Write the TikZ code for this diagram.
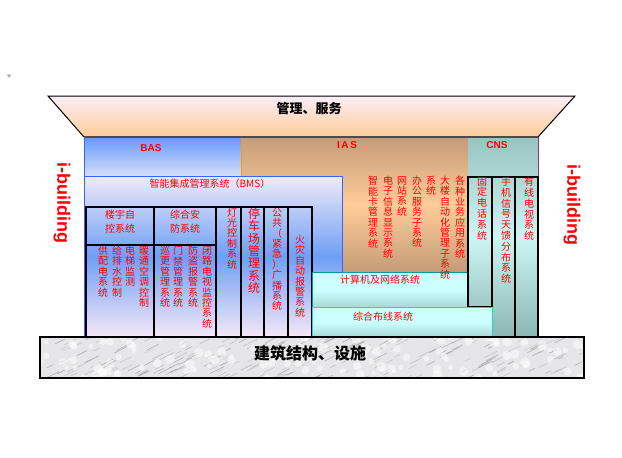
\documentclass[tikz,border=0pt]{standalone}
\usepackage{fontspec}
\setmainfont{Liberation Sans}
\newfontfamily\cjk{Noto Sans CJK SC}
\definecolor{trapTop}{HTML}{FAEEF8}
\definecolor{trapBot}{HTML}{FFCC99}
\definecolor{basBlue}{HTML}{6699FF}
\definecolor{basLight}{HTML}{DCE2F6}
\definecolor{bmsTop}{HTML}{F0EAF8}
\definecolor{bmsMid}{HTML}{6E9FF6}
\definecolor{bmsBot}{HTML}{F6E8F6}
\definecolor{bmsLine}{HTML}{3366FF}
\definecolor{iasDark}{HTML}{C49C78}
\definecolor{iasLight}{HTML}{FFCC99}
\definecolor{iasLine}{HTML}{FF9900}
\definecolor{cnsTop}{HTML}{98C3C1}
\definecolor{cnsMid}{HTML}{CCF6F4}
\definecolor{cnsBot}{HTML}{8CB6B4}
\definecolor{cnsLine}{HTML}{993366}
\definecolor{cyanL}{HTML}{CCFFFF}
\definecolor{cyanD}{HTML}{A8D8D8}
\definecolor{netLine}{HTML}{009999}
\definecolor{wireLine}{HTML}{33CCCC}
\definecolor{txtRed}{HTML}{FF0000}
\definecolor{marble}{HTML}{E6E6E8}
\tikzset{
  vtxt/.style={anchor=north, inner sep=0pt, align=center, text=txtRed,
    font=\cjk\fontsize{10}{10.4}\selectfont},
  htxt/.style={inner sep=0pt, text=txtRed, font=\cjk\fontsize{10}{12}\selectfont},
  blk/.style={draw=black, line width=1.1pt},
  abbr/.style={inner sep=0pt, text=txtRed, font=\bfseries\fontsize{10}{12}\selectfont},
  ibld/.style={inner sep=0pt, text=txtRed, rotate=-90, font=\bfseries\fontsize{18}{18}\selectfont},
}
\begin{document}
\begin{tikzpicture}[x=1pt,y=-1pt]
\useasboundingbox (0,0) rectangle (622,458);
% small mark
\fill[gray!70] (6.5,74.5) -- (11.5,74.5) -- (9,77.5) -- cycle;
% top trapezoid
\shade[top color=trapTop, bottom color=trapBot] (48,96) -- (575,96) -- (538,137) -- (84,137) -- cycle;
\draw[black, line width=1pt] (84,137) -- (48,96) -- (575,96) -- (538,137);
% BAS
\shade[top color=basBlue, bottom color=basLight] (84,137) rectangle (241,178);
% IAS
\shade[top color=iasDark, bottom color=iasDark, middle color=iasLight] (241,137) rectangle (468,272);
\draw[iasLine, line width=1pt] (241,137) -- (241,176) (468,137) -- (468,272);
% CNS
\shade[top color=cnsTop, bottom color=cnsBot, middle color=cnsMid] (468,137) rectangle (538,337);
\draw[cnsLine, line width=1pt] (538.5,137) -- (538.5,337);
\draw[black!70, line width=1.5pt] (84,137) -- (538,137);
% BMS
\shade[top color=bmsTop, bottom color=bmsBot, middle color=bmsMid] (84,176) rectangle (342,337);
\draw[bmsLine, line width=1pt] (84.5,137) -- (84.5,337) (84,176) -- (342,176) -- (342,337);
% inner BMS boxes
\draw[blk] (86,207) rectangle (154,337) (86,245) -- (154,245);
\draw[blk] (154,207) rectangle (216,337) (154,245) -- (216,245);
\draw[blk] (216,207) rectangle (241,337);
\draw[blk] (241,207) rectangle (264,337);
\draw[blk] (264,207) rectangle (288,337);
\draw[blk] (288,207) rectangle (312,337);
% computer & network
\shade[top color=cyanL, bottom color=cyanD, middle color=cyanL] (312,272) rectangle (468,307);
\draw[netLine, line width=1pt] (312,272) rectangle (468,307);
% CNS columns
\draw[blk] (468,177) rectangle (492,307);
\draw[blk] (492,177) rectangle (515,337);
\draw[blk] (515,177) rectangle (538,337);
% cabling
\shade[top color=cyanL, bottom color=cyanD, middle color=cyanL] (312,307) rectangle (492,337);
\draw[wireLine, line width=1pt] (312,307) rectangle (492,337);
% base (marble)
\fill[marble] (40,337) rectangle (584,378);
\begin{scope}
\clip (40,337) rectangle (584,378);
\pgfmathsetseed{7}
\foreach \i in {1,...,260}{
  \pgfmathsetmacro\xx{30+560*rnd}
  \pgfmathsetmacro\yy{335+46*rnd}
  \pgfmathsetmacro\ll{4+10*rnd}
  \pgfmathsetmacro\gg{30+40*rnd}
  \draw[black!\gg, line width=0.7pt, opacity=0.35, line cap=round] (\xx,\yy) -- ++(\ll,-0.5*\ll);
}
\foreach \i in {1,...,120}{
  \pgfmathsetmacro\xx{30+560*rnd}
  \pgfmathsetmacro\yy{335+46*rnd}
  \fill[white, opacity=0.5] (\xx,\yy) circle (2+3*rnd);
}
\end{scope}
\draw[black, line width=1.1pt] (40,337) rectangle (584,378);
% texts
\node[inner sep=0pt, font=\cjk\bfseries\fontsize{13}{15}\selectfont] (mgmt) at (309,109) {管理、服务};
\node[inner sep=0pt, font=\cjk\bfseries\fontsize{16}{18}\selectfont] (bldg) at (310,353) {建筑结构、设施};
\node[abbr] (bas) at (151,148) {BAS};
\node[abbr] (ias) at (347,145) {I\,A\,S};
\node[abbr] (cns) at (497,145) {CNS};
\node[ibld] (ibl) at (62,203) {i-building};
\node[ibld] (ibr) at (572,205) {i-building};
\node[htxt] (bms) at (210,184) {智能集成管理系统（BMS）};
\node[htxt, align=center, font=\cjk\fontsize{10}{14}\selectfont] (lyzk) at (120,222) {楼宇自\\控系统};
\node[htxt, align=center, font=\cjk\fontsize{10}{14}\selectfont] (zhaf) at (185,222) {综合安\\防系统};
% BAS sub-columns
\node[vtxt] (c1) at (103,246) {供\\配\\电\\系\\统};
\node[vtxt] (c2) at (117,246) {给\\排\\水\\控\\制};
\node[vtxt] (c3) at (130,246) {电\\梯\\监\\测};
\node[vtxt] (c4) at (144,246) {暖\\通\\空\\调\\控\\制};
\node[vtxt] (c5) at (165,246) {巡\\更\\管\\理\\系\\统};
\node[vtxt] (c6) at (178,246) {门\\禁\\管\\理\\系\\统};
\node[vtxt] (c7) at (193,246) {防\\盗\\报\\警\\系\\统};
\node[vtxt] (c8) at (207,246) {闭\\路\\电\\视\\监\\控\\系\\统};
\node[vtxt] (c9) at (232,207.5) {灯\\光\\控\\制\\系\\统};
\node[vtxt, font=\cjk\fontsize{12}{12.4}\selectfont] (c10) at (254,208) {停\\车\\场\\管\\理\\系\\统};
\node[vtxt] (c11) at (277,208) {公\\共\\（\\紧\\急\\）\\广\\播\\系\\统};
\node[vtxt] (c12) at (300,235) {火\\灾\\自\\动\\报\\警\\系\\统};
% IAS columns
\node[vtxt] (i1) at (373,176) {智\\能\\卡\\管\\理\\系\\统};
\node[vtxt] (i2) at (388,176) {电\\子\\信\\息\\显\\示\\系\\统};
\node[vtxt] (i3) at (402,176) {网\\站\\系\\统};
\node[vtxt] (i4) at (417,176) {办\\公\\服\\务\\子\\系\\统};
\node[vtxt] (i5) at (431,176) {系\\统};
\node[vtxt] (i6) at (445,176) {大\\楼\\自\\动\\化\\管\\理\\子\\系\\统};
\node[vtxt] (i7) at (460,176) {各\\种\\业\\务\\应\\用\\系\\统};
% CNS columns
\node[vtxt, font=\cjk\fontsize{10}{10.8}\selectfont] (n1) at (482,177) {固\\定\\电\\话\\系\\统};
\node[vtxt, font=\cjk\fontsize{10}{10.8}\selectfont] (n2) at (506,177) {手\\机\\信\\号\\天\\馈\\分\\布\\系\\统};
\node[vtxt, font=\cjk\fontsize{10}{10.8}\selectfont] (n3) at (529,177) {有\\线\\电\\视\\系\\统};
% network / cabling labels
\node[htxt] (net) at (380,280) {计算机及网络系统};
\node[htxt] (wire) at (383,317) {综合布线系统};
\end{tikzpicture}
\end{document}
